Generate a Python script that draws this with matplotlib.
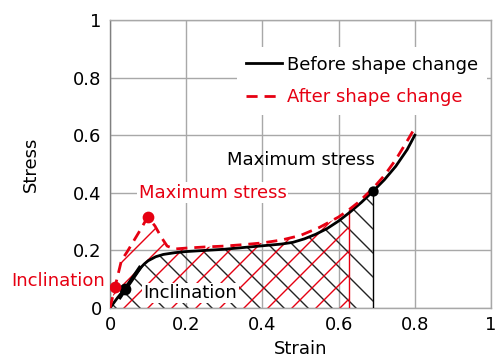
import numpy as np
import matplotlib
matplotlib.use("Agg")
import matplotlib.pyplot as plt
from matplotlib.ticker import FuncFormatter

RED = "#e60012"

# before shape change (black)
before_x = [0, 0.01, 0.02, 0.03, 0.04, 0.05, 0.06, 0.07, 0.08, 0.09, 0.10, 0.12, 0.14,
            0.17, 0.20, 0.25, 0.30, 0.35, 0.40, 0.45, 0.48, 0.51, 0.54, 0.57, 0.60,
            0.63, 0.66, 0.69, 0.72, 0.75, 0.78, 0.80]
before_y = [0, 0.018, 0.036, 0.052, 0.068, 0.086, 0.104, 0.122, 0.139, 0.153, 0.164,
            0.178, 0.186, 0.192, 0.196, 0.200, 0.204, 0.210, 0.216, 0.222, 0.228, 0.240,
            0.256, 0.276, 0.302, 0.333, 0.367, 0.405, 0.445, 0.492, 0.550, 0.600]

# after shape change (red dashed)
after_x = [0, 0.013, 0.03, 0.045, 0.06, 0.08, 0.099, 0.118, 0.135, 0.15, 0.17, 0.20,
           0.25, 0.30, 0.35, 0.40, 0.45, 0.50, 0.55, 0.60, 0.626, 0.65, 0.69, 0.72,
           0.75, 0.78, 0.80]
after_y = [0, 0.072, 0.165, 0.195, 0.228, 0.272, 0.316, 0.285, 0.245, 0.215, 0.205,
           0.208, 0.212, 0.215, 0.220, 0.226, 0.236, 0.252, 0.280, 0.316, 0.340, 0.365,
           0.415, 0.460, 0.515, 0.580, 0.625]

before_max = (0.69, 0.405)
before_incl = (0.039, 0.066)
after_max = (0.099, 0.316)
after_incl = (0.013, 0.072)
after_end = 0.626

# render at a higher dpi so the hatch spacing is wider; point sizes scaled down
DPI = 144
S = 100 / DPI

plt.rcParams["font.family"] = ["DejaVu Sans"]
plt.rcParams["hatch.linewidth"] = 1.0 * S

fig = plt.figure(figsize=(496 / DPI, 360 / DPI), dpi=DPI)
ax = fig.add_axes([110 / 496, 1 - 308 / 360, 381 / 496, 288 / 360])

bx = np.array(before_x)
by = np.array(before_y)
ax_ = np.array(after_x)
ay = np.array(after_y)

# hatched areas
mb = bx <= before_max[0]
ax.fill_between(bx[mb], 0, by[mb], facecolor="none", edgecolor="#222222",
                hatch="\\\\", linewidth=0, zorder=2)
ma = ax_ <= after_end
ax.fill_between(ax_[ma], 0, ay[ma], facecolor="none", edgecolor=RED,
                hatch="//", linewidth=0, zorder=2)
ax.plot([before_max[0]] * 2, [0, before_max[1]], color="black", lw=1 * S, zorder=3)
ax.plot([after_end] * 2, [0, ay[ma][-1]], color=RED, lw=1 * S, zorder=3)

ax.plot(bx, by, color="black", lw=2 * S, label="Before shape change", zorder=4)
ax.plot(ax_, ay, color=RED, lw=2 * S, ls=(0, (4, 2.5)), label="After shape change",
        zorder=4)

# tangent (inclination) segment
ax.plot([0.026, 0.078], [0.038, 0.139], color="black", lw=3 * S, zorder=5)

ax.plot(*before_max, "o", color="black", ms=6 * S, zorder=6)
ax.plot(*before_incl, "o", color="black", ms=7 * S, zorder=6)
ax.plot(*after_max, "o", color=RED, ms=7 * S, zorder=6)
ax.plot(*after_incl, "o", color=RED, ms=7 * S, zorder=6)

ax.set_xlim(0, 1)
ax.set_ylim(0, 1)
ticks = [0, 0.2, 0.4, 0.6, 0.8, 1]
ax.set_xticks(ticks)
ax.set_yticks(ticks)
fmt = FuncFormatter(lambda v, p: "0" if v == 0 else ("1" if v == 1 else f"{v:.1f}"))
ax.xaxis.set_major_formatter(fmt)
ax.yaxis.set_major_formatter(fmt)
fs = 13 * S
ax.tick_params(length=0, labelsize=fs, pad=6 * S)
ax.grid(color="#a8a8a8", lw=1 * S)
ax.set_axisbelow(True)
for s in ax.spines.values():
    s.set_color("#a8a8a8")
    s.set_linewidth(1 * S)
ax.spines["left"].set_color("#808080")
ax.set_xlabel("Strain", fontsize=fs, labelpad=4 * S)
ax.set_ylabel("Stress", fontsize=fs, labelpad=24 * S)

bbox = dict(facecolor="white", edgecolor="none", pad=1 * S)
ax.text(0.50, 0.515, "Maximum stress", fontsize=fs, ha="center", va="center",
        color="black", zorder=7)
ax.text(0.27, 0.40, "Maximum stress", fontsize=fs, ha="center", va="center",
        color=RED, bbox=bbox, zorder=7)
ax.text(0.088, 0.052, "Inclination", fontsize=fs, ha="left", va="center",
        color="black", bbox=bbox, zorder=7)
ax.text(-0.013, 0.094, "Inclination", fontsize=fs, ha="right", va="center",
        color=RED, clip_on=False, zorder=7)

leg = ax.legend(loc="upper right", bbox_to_anchor=(1.0, 0.92), frameon=True,
                fontsize=fs, handlelength=2.0, handletextpad=0.3,
                borderaxespad=0.3, labelspacing=0.8)
leg.get_frame().set_edgecolor("none")
leg.get_frame().set_alpha(1)
leg.get_frame().set_boxstyle("square", pad=0.1)
leg.get_texts()[1].set_color(RED)

fig.savefig("out.png", dpi=DPI)
